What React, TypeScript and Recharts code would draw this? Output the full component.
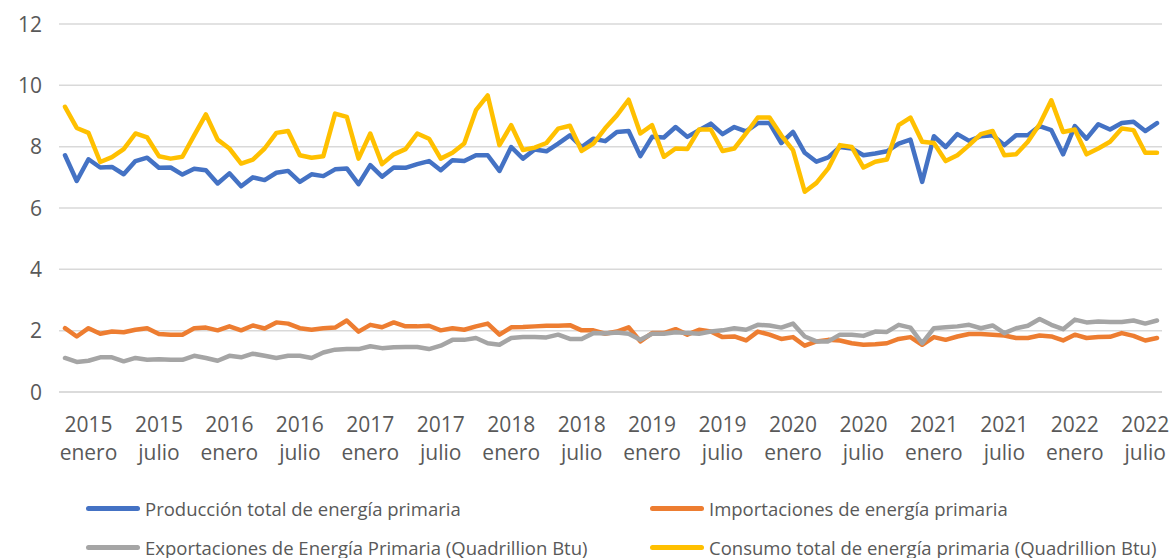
import React from "react"
import { LineChart, Line, XAxis, YAxis, CartesianGrid } from "recharts"

// monthly series, Nov 2014 .. Aug 2022 (quadrillion Btu)
const firstYear = 2014
const firstMonth = 10 // november, 0-based
const monthCount = 94

const tickMonths: Record<number, string> = { 0: "enero", 6: "julio" }
const yTicks = [0, 2, 4, 6, 8, 10, 12]

const production = [
  7.72, 6.88, 7.59, 7.32, 7.34, 7.1, 7.53, 7.64, 7.31, 7.32, 7.09, 7.28, 7.23, 6.8, 7.13, 6.71,
  7.0, 6.91, 7.15, 7.21, 6.85, 7.1, 7.04, 7.26, 7.29, 6.78, 7.4, 7.02, 7.32, 7.31, 7.43, 7.53,
  7.23, 7.56, 7.53, 7.72, 7.72, 7.21, 7.99, 7.61, 7.91, 7.85, 8.1, 8.37, 7.99, 8.26, 8.18, 8.48,
  8.51, 7.69, 8.32, 8.3, 8.64, 8.32, 8.54, 8.75, 8.41, 8.64, 8.5, 8.77, 8.77, 8.12, 8.48, 7.8,
  7.51, 7.65, 7.99, 7.94, 7.72, 7.78, 7.85, 8.1, 8.23, 6.85, 8.34, 7.99, 8.41, 8.19, 8.34, 8.37,
  8.05, 8.37, 8.37, 8.67, 8.54, 7.75, 8.67, 8.26, 8.73, 8.56, 8.77, 8.81, 8.51, 8.77,
]

const imports = [
  2.08, 1.81, 2.08, 1.9, 1.97, 1.95, 2.03, 2.08, 1.89, 1.87, 1.87, 2.08, 2.1, 2.01, 2.14, 2.01,
  2.17, 2.07, 2.27, 2.23, 2.08, 2.03, 2.08, 2.1, 2.33, 1.97, 2.19, 2.11, 2.27, 2.14, 2.14, 2.16,
  2.01, 2.08, 2.03, 2.14, 2.23, 1.87, 2.11, 2.12, 2.14, 2.16, 2.16, 2.18, 2.01, 2.01, 1.9, 1.97,
  2.11, 1.65, 1.92, 1.92, 2.05, 1.87, 2.03, 1.97, 1.79, 1.81, 1.68, 1.97, 1.87, 1.73, 1.79, 1.51,
  1.65, 1.7, 1.68, 1.59, 1.54, 1.56, 1.59, 1.73, 1.79, 1.54, 1.79, 1.7, 1.81, 1.89, 1.89, 1.87,
  1.84, 1.76, 1.76, 1.84, 1.81, 1.68, 1.87, 1.76, 1.79, 1.8, 1.92, 1.83, 1.68, 1.76,
]

const exportsData = [
  1.11, 0.98, 1.02, 1.13, 1.13, 1.0, 1.11, 1.05, 1.07, 1.05, 1.05, 1.18, 1.11, 1.02, 1.18, 1.13,
  1.25, 1.18, 1.11, 1.18, 1.18, 1.11, 1.29, 1.38, 1.4, 1.4, 1.49, 1.43, 1.46, 1.47, 1.47, 1.4,
  1.51, 1.7, 1.7, 1.76, 1.59, 1.54, 1.76, 1.79, 1.79, 1.78, 1.87, 1.73, 1.73, 1.92, 1.91, 1.94,
  1.9, 1.7, 1.9, 1.9, 1.95, 1.92, 1.9, 1.97, 2.01, 2.08, 2.03, 2.19, 2.17, 2.1, 2.23, 1.81,
  1.65, 1.65, 1.87, 1.87, 1.83, 1.97, 1.96, 2.19, 2.1, 1.59, 2.08, 2.11, 2.14, 2.19, 2.08, 2.17,
  1.92, 2.08, 2.16, 2.38, 2.19, 2.05, 2.36, 2.27, 2.3, 2.28, 2.28, 2.33, 2.23, 2.33,
]

const consumption = [
  9.3, 8.61, 8.45, 7.5, 7.66, 7.92, 8.43, 8.3, 7.69, 7.61, 7.67, 8.37, 9.05, 8.23, 7.94, 7.45,
  7.58, 7.94, 8.45, 8.51, 7.72, 7.64, 7.69, 9.08, 8.97, 7.61, 8.43, 7.43, 7.75, 7.92, 8.43, 8.26,
  7.61, 7.8, 8.1, 9.19, 9.67, 8.05, 8.7, 7.89, 7.97, 8.12, 8.59, 8.68, 7.86, 8.1, 8.6, 9.02,
  9.53, 8.43, 8.7, 7.67, 7.94, 7.92, 8.56, 8.56, 7.86, 7.94, 8.43, 8.95, 8.95, 8.37, 7.89, 6.53,
  6.82, 7.29, 8.05, 7.99, 7.32, 7.51, 7.58, 8.7, 8.95, 8.16, 8.12, 7.53, 7.72, 8.05, 8.41, 8.51,
  7.72, 7.75, 8.16, 8.73, 9.51, 8.48, 8.56, 7.75, 7.94, 8.16, 8.59, 8.54, 7.8, 7.8,
]

const series = [
  { key: "production", name: "Producción total de energía primaria", color: "#4472C4", values: production },
  { key: "imports", name: "Importaciones de energía primaria", color: "#ED7D31", values: imports },
  { key: "exports", name: "Exportaciones de Energía Primaria (Quadrillion Btu)", color: "#A5A5A5", values: exportsData },
  { key: "consumption", name: "Consumo total de energía primaria (Quadrillion Btu)", color: "#FFC000", values: consumption },
]

const categories = Array.from({ length: monthCount }, (_, i) => {
  const m = firstMonth + i
  return `${firstYear + Math.floor(m / 12)}-${m % 12}`
})

const data = categories.map((month, i) => {
  const row: Record<string, string | number> = { month }
  series.forEach((s) => (row[s.key] = s.values[i]))
  return row
})

const font = "'Open Sans', sans-serif"
const textColor = "#595959"

const MonthTick = ({ x, y, payload }: any) => {
  const [year, m] = String(payload.value).split("-")
  const label = tickMonths[Number(m)]
  if (!label) return <g />
  return (
    <text x={x} textAnchor="middle" fill={textColor} fontSize={21} fontFamily={font}>
      <tspan x={x} y={y + 32}>{year}</tspan>
      <tspan x={x} y={y + 60}>{label}</tspan>
    </text>
  )
}

const ValueTick = ({ y, payload }: any) => (
  <text x={42} y={y} dy={7.5} textAnchor="end" fill={textColor} fontSize={21} fontFamily={font}>
    {payload.value}
  </text>
)

export default function App() {
  return (
    <div style={{ position: "absolute", left: 0, top: 0, width: 1172, height: 558, background: "#fff" }}>
      <LineChart
        width={1172}
        height={558}
        data={data}
        margin={{ top: 24, right: 10, bottom: 0, left: 0 }}
      >
        <CartesianGrid vertical={false} stroke="#D9D9D9" strokeWidth={1.5} />
        <XAxis
          dataKey="month"
          interval={0}
          height={166}
          axisLine={{ stroke: "#D9D9D9", strokeWidth: 1.5 }}
          tickLine={false}
          tick={<MonthTick />}
          padding={{ left: 6, right: 5 }}
        />
        <YAxis
          width={59}
          domain={[0, 12]}
          ticks={yTicks}
          axisLine={false}
          tickLine={false}
          tick={<ValueTick />}
        />
        {series.map((s) => (
          <Line
            key={s.key}
            type="linear"
            dataKey={s.key}
            name={s.name}
            stroke={s.color}
            strokeWidth={4.5}
            strokeLinejoin="round"
            strokeLinecap="round"
            dot={false}
            isAnimationActive={false}
          />
        ))}
      </LineChart>

      {/* legend, two columns like the original */}
      {series.map((s, i) => (
        <div
          key={s.key}
          style={{
            position: "absolute",
            left: i % 2 === 0 ? 86 : 650,
            top: i < 2 ? 499 : 538,
            height: 19,
            lineHeight: "19px",
            display: "flex",
            alignItems: "center",
            fontFamily: font,
            fontSize: 18.5,
            color: textColor,
            whiteSpace: "nowrap",
          }}
        >
          <span style={{ display: "inline-block", width: 54, height: 5, borderRadius: 3, background: s.color, marginRight: 5 }} />
          {s.name}
        </div>
      ))}
    </div>
  )
}
